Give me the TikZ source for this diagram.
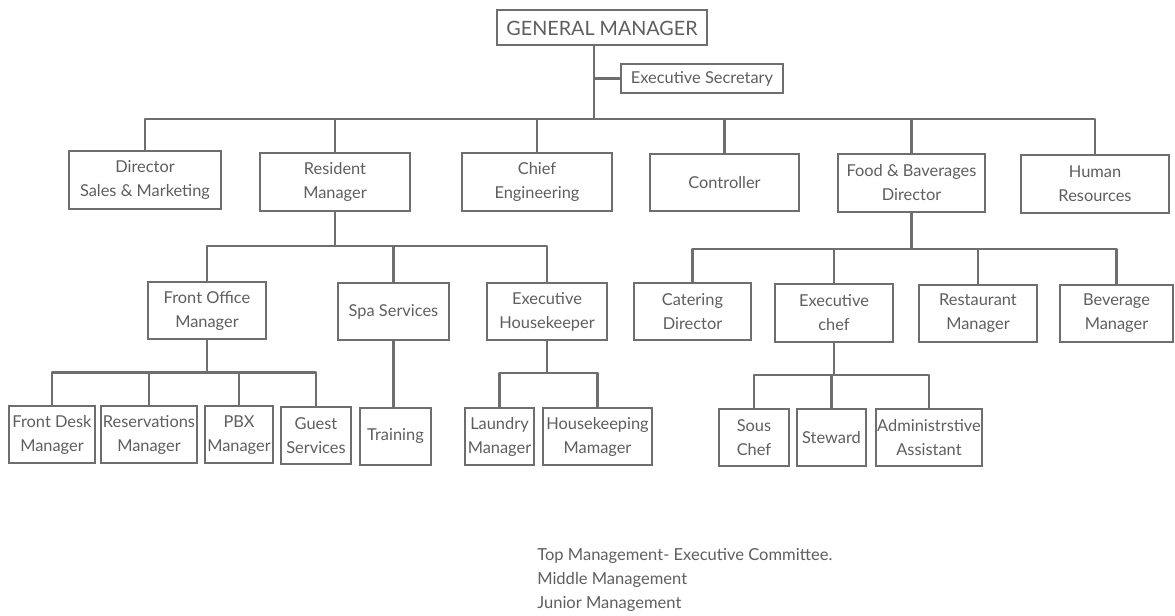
\documentclass[tikz,border=0pt]{standalone}
\usepackage{fontspec}
\setmainfont{Lato}
\usepackage{tikz}
\usetikzlibrary{calc,positioning}
\definecolor{boxgray}{HTML}{6E6E6E}
\definecolor{txtgray}{HTML}{5E5E5E}

\begin{document}
\begin{tikzpicture}[x=0.75pt,y=-0.75pt,
  box/.style 2 args={draw=boxgray, line width=1.5pt, text=txtgray, align=center,
    inner sep=0pt, minimum width=#1*0.75pt, minimum height=#2*0.75pt,
    font=\fontsize{12.3}{18}\selectfont},
  ln/.style={draw=boxgray, line width=1.7pt, line join=round}]
  \useasboundingbox (0,0) rectangle (1175,616);

  % top
  \node[box={210}{35}, font=\fontsize{14.8}{18}\selectfont] (gm) at (602,28) {GENERAL MANAGER};
  \node[box={162}{29}] (es) at (702,78.5) {Executive Secretary};
  \coordinate (b1) at (594,119);

  % executive committee
  \node[box={152}{58}] (dsm) at (145,180) {Director\\Sales \& Marketing};
  \node[box={150}{58}] (rm) at (335,182) {Resident\\Manager};
  \node[box={150}{58}] (ce) at (537,182) {Chief\\Engineering};
  \node[box={149}{57}] (ctl) at (724.5,182.5) {Controller};
  \node[box={147}{58}] (fb) at (911.5,183) {Food \& Baverages\\Director};
  \node[box={148}{58}] (hr) at (1095,184) {Human\\Resources};

  % middle management
  \node[box={118}{57}] (fo) at (207,311) {Front Office\\Manager};
  \node[box={111}{57}] (spa) at (393.5,311.5) {Spa Services};
  \node[box={120}{57}] (eh) at (547,311.5) {Executive\\Housekeeper};
  \node[box={117}{57}] (cat) at (692.5,312) {Catering\\Director};
  \node[box={118}{58}] (ec) at (834,313) {Executive\\chef};
  \node[box={118}{57}] (rest) at (978,313.5) {Restaurant\\Manager};
  \node[box={113}{57}] (bev) at (1116.5,313.5) {Beverage\\Manager};

  % junior management
  \node[box={86}{57}] (fd) at (52,434.5) {Front Desk\\Manager};
  \node[box={96}{57}] (res) at (149,434.5) {Reservations\\Manager};
  \node[box={68}{57}] (pbx) at (239,435) {PBX\\Manager};
  \node[box={70}{57}] (gs) at (316,435.5) {Guest\\Services};
  \node[box={71}{57}] (trn) at (395.5,436.5) {Training};
  \node[box={69}{57}] (lm) at (499.5,436.5) {Laundry\\Manager};
  \node[box={109}{57}] (hk) at (597.5,436.5) {Housekeeping\\Mamager};
  \node[box={70}{57}] (sc) at (754,437.5) {Sous\\Chef};
  \node[box={69}{57}] (stw) at (831.5,437.5) {Steward};
  \node[box={106}{57}] (adm) at (929,437.5) {Administrstive\\Assistant};

  % connectors
  \draw[ln] (gm.south -| b1) -- (b1);
  \draw[ln] (es.west) -- (es.west -| b1);
  \foreach \n in {dsm,rm,ce,ctl,fb,hr}
    \draw[ln] (\n.north) |- (b1);

  \path (rm.south) ++(0,34) coordinate (b2);
  \draw[ln] (rm.south) -- (b2);
  \foreach \n in {fo,spa,eh}
    \draw[ln] (\n.north) |- (b2);

  \path (fb.south) ++(0,36) coordinate (b3);
  \draw[ln] (fb.south) -- (b3);
  \foreach \n in {cat,ec,rest,bev}
    \draw[ln] (\n.north) |- (b3);

  \path (fo.south) ++(0,32) coordinate (b4);
  \draw[ln] (fo.south) -- (b4);
  \foreach \n in {fd,res,pbx,gs}
    \draw[ln] (\n.north) |- (b4);

  \draw[ln] (spa.south) -- (trn.north -| spa.south);

  \path (eh.south) ++(0,32) coordinate (b5);
  \draw[ln] (eh.south) -- (b5);
  \foreach \n in {lm,hk}
    \draw[ln] (\n.north) |- (b5);

  \path (ec.south) ++(0,32) coordinate (b6);
  \draw[ln] (ec.south) -- (b6);
  \foreach \n in {sc,stw,adm}
    \draw[ln] (\n.north) |- (b6);

  % legend
  \begin{scope}[every node/.style={anchor=west, text=txtgray, inner sep=0pt,
      font=\fontsize{12.4}{14}\selectfont}]
    \node (top) at (537,556) {Top Management- Executive Committee.};
    \node (mid) at (537,580) {Middle Management};
    \node (jun) at (537,604) {Junior Management};
  \end{scope}
\end{tikzpicture}
\end{document}
